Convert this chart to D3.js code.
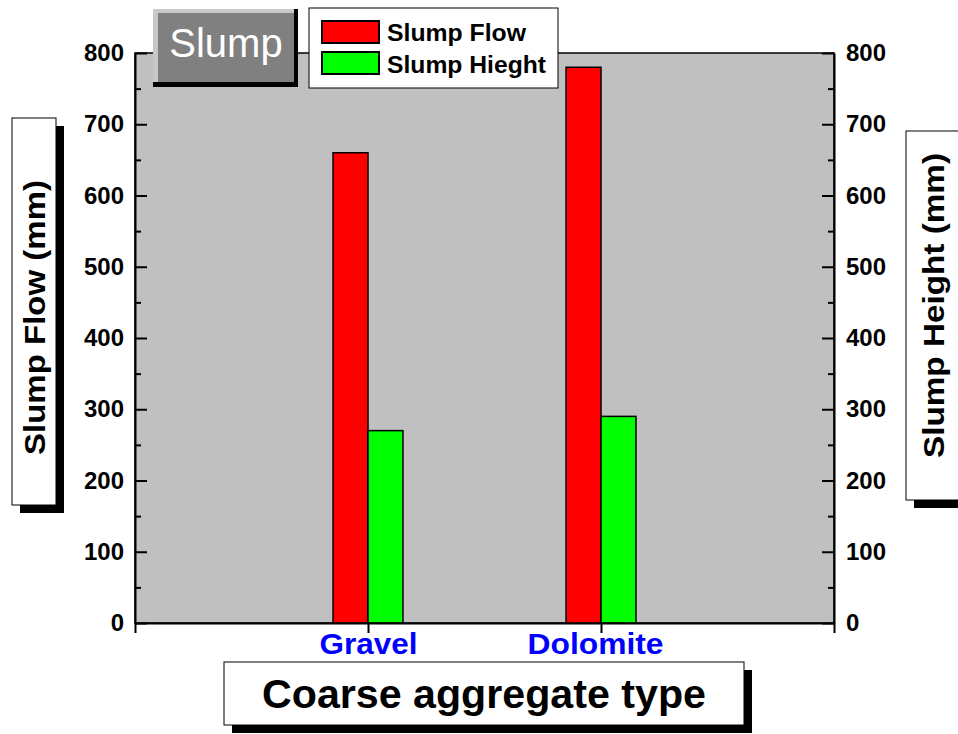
<!DOCTYPE html>
<html><head><meta charset="utf-8">
<script src="https://cdn.jsdelivr.net/npm/d3@7"></script>
<style>
html,body{margin:0;padding:0;background:#fff;}
svg{display:block;font-family:"Liberation Sans",Arial,sans-serif;}
</style></head>
<body><svg id="c" width="958" height="734"></svg>
<script>
const categories = ["Gravel", "Dolomite"];
const slumpFlow = [660, 780];
const slumpHeight = [270, 290];
const seriesNames = ["Slump Flow", "Slump Hieght"];
const yTicks = [0, 100, 200, 300, 400, 500, 600, 700, 800];
const yMinorTicks = [50, 150, 250, 350, 450, 550, 650, 750];

const svg = d3.select("#c");
const L = 135, R = 834, T = 53, B = 623;
const x = d3.scaleLinear().domain([0, 3]).range([L, R]);
const y = d3.scaleLinear().domain([0, 800]).range([B, T]);
const bw = 0.15;

// plot background
svg.append("rect").attr("x", L).attr("y", T).attr("width", R - L).attr("height", B - T)
  .attr("fill", "#c0c0c0").attr("stroke", "#000").attr("stroke-width", 1.5);

// bars
const series = [{name: seriesNames[0], vals: slumpFlow, color: "#ff0000", off: -bw},
                {name: seriesNames[1], vals: slumpHeight, color: "#00ff00", off: 0}];
series.forEach(s => {
  svg.append("g").selectAll("rect").data(s.vals).join("rect")
    .attr("x", (d, i) => x(i + 1 + s.off))
    .attr("y", d => y(d))
    .attr("width", (d, i) => x(i + 1 + s.off + bw) - x(i + 1 + s.off))
    .attr("height", d => y(0) - y(d))
    .attr("fill", s.color).attr("stroke", "#000").attr("stroke-width", 1.5);
});

function styleAxis(g) {
  g.select(".domain").attr("stroke", "#000").attr("stroke-width", 2);
  g.selectAll(".tick line").attr("stroke", "#000").attr("stroke-width", 2);
  g.selectAll(".tick text").attr("fill", "#000").attr("font-size", 24).attr("font-weight", "bold")
    .attr("font-family", "Liberation Sans, Arial, sans-serif");
}

// left axis
const gl = svg.append("g").attr("transform", `translate(${L},0)`)
  .call(d3.axisLeft(y).tickValues(yTicks).tickSize(-12).tickPadding(11).tickSizeOuter(0));
styleAxis(gl);
gl.selectAll(".tick text").filter(d => d > 0).attr("textLength", 40).attr("lengthAdjust", "spacingAndGlyphs");
svg.append("g").attr("transform", `translate(${L},0)`)
  .call(d3.axisLeft(y).tickValues(yMinorTicks).tickSize(-6).tickFormat("").tickSizeOuter(0))
  .call(g => { g.select(".domain").remove(); g.selectAll("line").attr("stroke", "#000").attr("stroke-width", 2); });

// right axis
const gr = svg.append("g").attr("transform", `translate(${R},0)`)
  .call(d3.axisRight(y).tickValues(yTicks).tickSize(-12).tickPadding(12).tickSizeOuter(0));
styleAxis(gr);
gr.selectAll(".tick text").filter(d => d > 0).attr("textLength", 40).attr("lengthAdjust", "spacingAndGlyphs");
svg.append("g").attr("transform", `translate(${R},0)`)
  .call(d3.axisRight(y).tickValues(yMinorTicks).tickSize(-6).tickFormat("").tickSizeOuter(0))
  .call(g => { g.select(".domain").remove(); g.selectAll("line").attr("stroke", "#000").attr("stroke-width", 2); });

// bottom axis
const gb = svg.append("g").attr("transform", `translate(0,${B})`)
  .call(d3.axisBottom(x).tickValues([0, 1, 2, 3]).tickSize(10).tickPadding(0).tickSizeOuter(0)
    .tickFormat(d => (d >= 1 && d <= categories.length) ? categories[d - 1] : ""));
styleAxis(gb);
gb.selectAll(".tick text").attr("fill", "#0000ff").attr("font-size", 30)
  .attr("dx", d => d === 2 ? -6 : 0)
  .attr("textLength", d => d === 1 ? 98 : 136).attr("lengthAdjust", "spacingAndGlyphs");

// boxed label helper
function boxLabel(bx, by, bw2, bh, text, fs, len, rotate, ox, oy) {
  const g = svg.append("g");
  g.append("rect").attr("x", bx + 8).attr("y", by + 8).attr("width", bw2).attr("height", bh).attr("fill", "#000");
  g.append("rect").attr("x", bx).attr("y", by).attr("width", bw2).attr("height", bh)
    .attr("fill", "#fff").attr("stroke", "#000").attr("stroke-width", 1);
  const cx = bx + bw2 / 2 + ox, cy = by + bh / 2 + oy;
  g.append("text").attr("transform", `translate(${cx},${cy}) rotate(${rotate})`)
    .attr("text-anchor", "middle").attr("dominant-baseline", "central")
    .attr("font-size", fs).attr("font-weight", "bold").attr("fill", "#000")
    .attr("textLength", len).attr("lengthAdjust", "spacingAndGlyphs").text(text);
}
boxLabel(12, 118, 44, 387, "Slump Flow (mm)", 30, 275, -90, 0, 6);
boxLabel(906, 131, 60, 369, "Slump Height (mm)", 30, 305, -90, -3, -10);
boxLabel(224, 662, 520, 63, "Coarse aggregate type", 40, 444, 0, 0, 0);

// "Slump" 3D box
svg.append("rect").attr("x", 153).attr("y", 9).attr("width", 145).attr("height", 78).attr("fill", "#000");
svg.append("rect").attr("x", 153).attr("y", 9).attr("width", 141).attr("height", 73).attr("fill", "#c8c8c8");
svg.append("rect").attr("x", 158).attr("y", 13).attr("width", 136).attr("height", 69).attr("fill", "#808080");
svg.append("text").attr("x", 226).attr("y", 57).attr("text-anchor", "middle")
  .attr("font-size", 40).attr("fill", "#fff").text("Slump");

// legend
const lg = svg.append("g");
lg.append("rect").attr("x", 309).attr("y", 8).attr("width", 249).attr("height", 80)
  .attr("fill", "#fff").attr("stroke", "#000").attr("stroke-width", 1);
series.forEach((s, i) => {
  lg.append("rect").attr("x", 322).attr("y", 21 + i * 31).attr("width", 57).attr("height", 22)
    .attr("fill", s.color).attr("stroke", "#000").attr("stroke-width", 2);
  lg.append("text").attr("x", 387).attr("y", 41 + i * 32).attr("font-size", 24).attr("font-weight", "bold")
    .attr("fill", "#000").attr("textLength", i === 0 ? 139 : 159).attr("lengthAdjust", "spacingAndGlyphs")
    .text(s.name);
});
</script></body></html>
